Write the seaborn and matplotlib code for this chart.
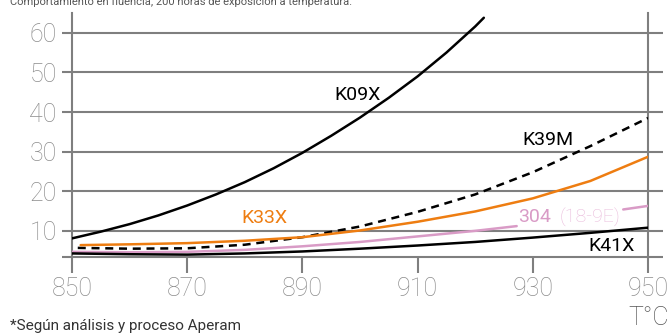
import matplotlib
matplotlib.use("Agg")
import matplotlib.pyplot as plt
import matplotlib.transforms as mtransforms
import pandas as pd
import seaborn as sns

# Creep behaviour readings (deformation vs. temperature)
k09x_t = [850, 855, 860, 865, 870, 875, 880, 885, 890, 895, 900, 905, 910, 915, 920, 921.5]
k09x = [8.1, 9.8, 11.7, 13.9, 16.4, 19.2, 22.3, 25.8, 29.7, 34.0, 38.6, 43.6, 49.0, 55.0, 61.6, 63.8]

k39m_t = [851, 860, 870, 880, 890, 900, 910, 920, 930, 940, 950]
k39m = [5.7, 5.5, 5.6, 6.5, 8.4, 11.1, 14.8, 19.2, 24.8, 31.4, 38.5]

k33x_t = [851.5, 860, 870, 880, 890, 900, 910, 920, 930, 940, 950]
k33x = [6.4, 6.6, 6.9, 7.5, 8.4, 10.1, 12.3, 14.9, 18.2, 22.6, 28.7]

s304_t = [850, 860, 870, 880, 890, 900, 910, 920, 927.2, 945.7, 950]
s304 = [4.7, 4.6, 4.7, 5.2, 6.1, 7.2, 8.6, 10.0, 11.2, 15.4, 16.3]
s304_seg = [0, 0, 0, 0, 0, 0, 0, 0, 0, 1, 1]

k41x_t = [850, 860, 870, 880, 890, 900, 910, 920, 930, 940, 950]
k41x = [4.3, 4.1, 4.0, 4.3, 4.8, 5.5, 6.3, 7.2, 8.3, 9.5, 10.8]

x_ticks = [850, 870, 890, 910, 930, 950]
y_ticks = [10, 20, 30, 40, 50, 60]

title = "Comportamiento en fluencia, 200 horas de exposición a temperatura:"
footnote = "*Según análisis y proceso Aperam"
x_unit = "T°C"

GRAY = "#7f7f7f"
TICK_GRAY = "#8c8c8c"
ORANGE = "#ee7d11"
PINK = "#d99bc6"
PINK_LIGHT = "#e9b9da"

sns.set_style("white")
plt.rcParams["font.family"] = ["Roboto", "DejaVu Sans"]

fig = plt.figure(figsize=(6.68, 3.34), dpi=100)
ax = fig.add_axes([72 / 668, 1 - 257 / 334, 576 / 668, 244 / 334])

lw = 1.8
sns.lineplot(x=k09x_t, y=k09x, color="black", lw=lw, ax=ax, zorder=5)
sns.lineplot(x=k39m_t, y=k39m, color="black", lw=lw, ax=ax, zorder=5,
             linestyle=(0, (3.2, 2.3)))
sns.lineplot(x=k33x_t, y=k33x, color=ORANGE, lw=lw, ax=ax, zorder=5)
df304 = pd.DataFrame({"t": s304_t, "v": s304, "seg": s304_seg})
sns.lineplot(data=df304, x="t", y="v", units="seg", estimator=None,
             color=PINK, lw=lw, ax=ax, zorder=5)
sns.lineplot(x=k41x_t, y=k41x, color="black", lw=lw, ax=ax, zorder=5)

ax.set_xlim(850, 950)
ax.set_ylim(3.4, 65)
ax.set_xlabel("")
ax.set_ylabel("")

# frame: only the two vertical sides
for side in ("top", "bottom"):
    ax.spines[side].set_visible(False)
for side in ("left", "right"):
    ax.spines[side].set_color(GRAY)
    ax.spines[side].set_linewidth(1.5)

# horizontal rules, reaching a little past both sides
blend = mtransforms.blended_transform_factory(ax.transAxes, ax.transData)
for v in [ax.get_ylim()[0]] + y_ticks:
    ax.plot([-0.0174, 1.026], [v, v], transform=blend, color=GRAY, lw=1.5,
            clip_on=False, zorder=1, solid_capstyle="butt")

ax.set_xticks(x_ticks)
ax.set_yticks(y_ticks)
ax.tick_params(axis="x", direction="out", length=11.5, width=1.5, color=GRAY,
               pad=3, labelsize=18, labelcolor=TICK_GRAY, bottom=True)
ax.tick_params(axis="y", length=0, pad=11, labelsize=18, labelcolor=TICK_GRAY,
               left=True)
for lab in ax.get_xticklabels() + ax.get_yticklabels():
    lab.set_fontweight("light")

# series labels
lab_kw = dict(fontsize=14, va="center", zorder=6)
ax.text(899.5, 44.3, "K09X", ha="center", color="black", **lab_kw)
ax.text(932.7, 32.9, "K39M", ha="center", color="black", **lab_kw)
ax.text(883.4, 13.2, "K33X", ha="center", color=ORANGE, **lab_kw)
ax.text(927.4, 13.4, "304", ha="left", color=PINK, **lab_kw)
ax.text(934.7, 13.4, "(18-9E)", ha="left", color=PINK_LIGHT, fontweight="light", **lab_kw)
ax.text(943.7, 6.25, "K41X", ha="center", color="black", **lab_kw)

fig.text(10 / 668, 1 - 5 / 334, title, ha="left", va="baseline",
         fontsize=8, color="#555555")
fig.text(10 / 668, 1 - 330 / 334, footnote, ha="left", va="baseline",
         fontsize=11, color="#333333")
fig.text(649 / 668, 1 - 318 / 334, x_unit, ha="center", va="center",
         fontsize=18, color="#555555", fontweight="light")

fig.savefig("out.png", dpi=100)
